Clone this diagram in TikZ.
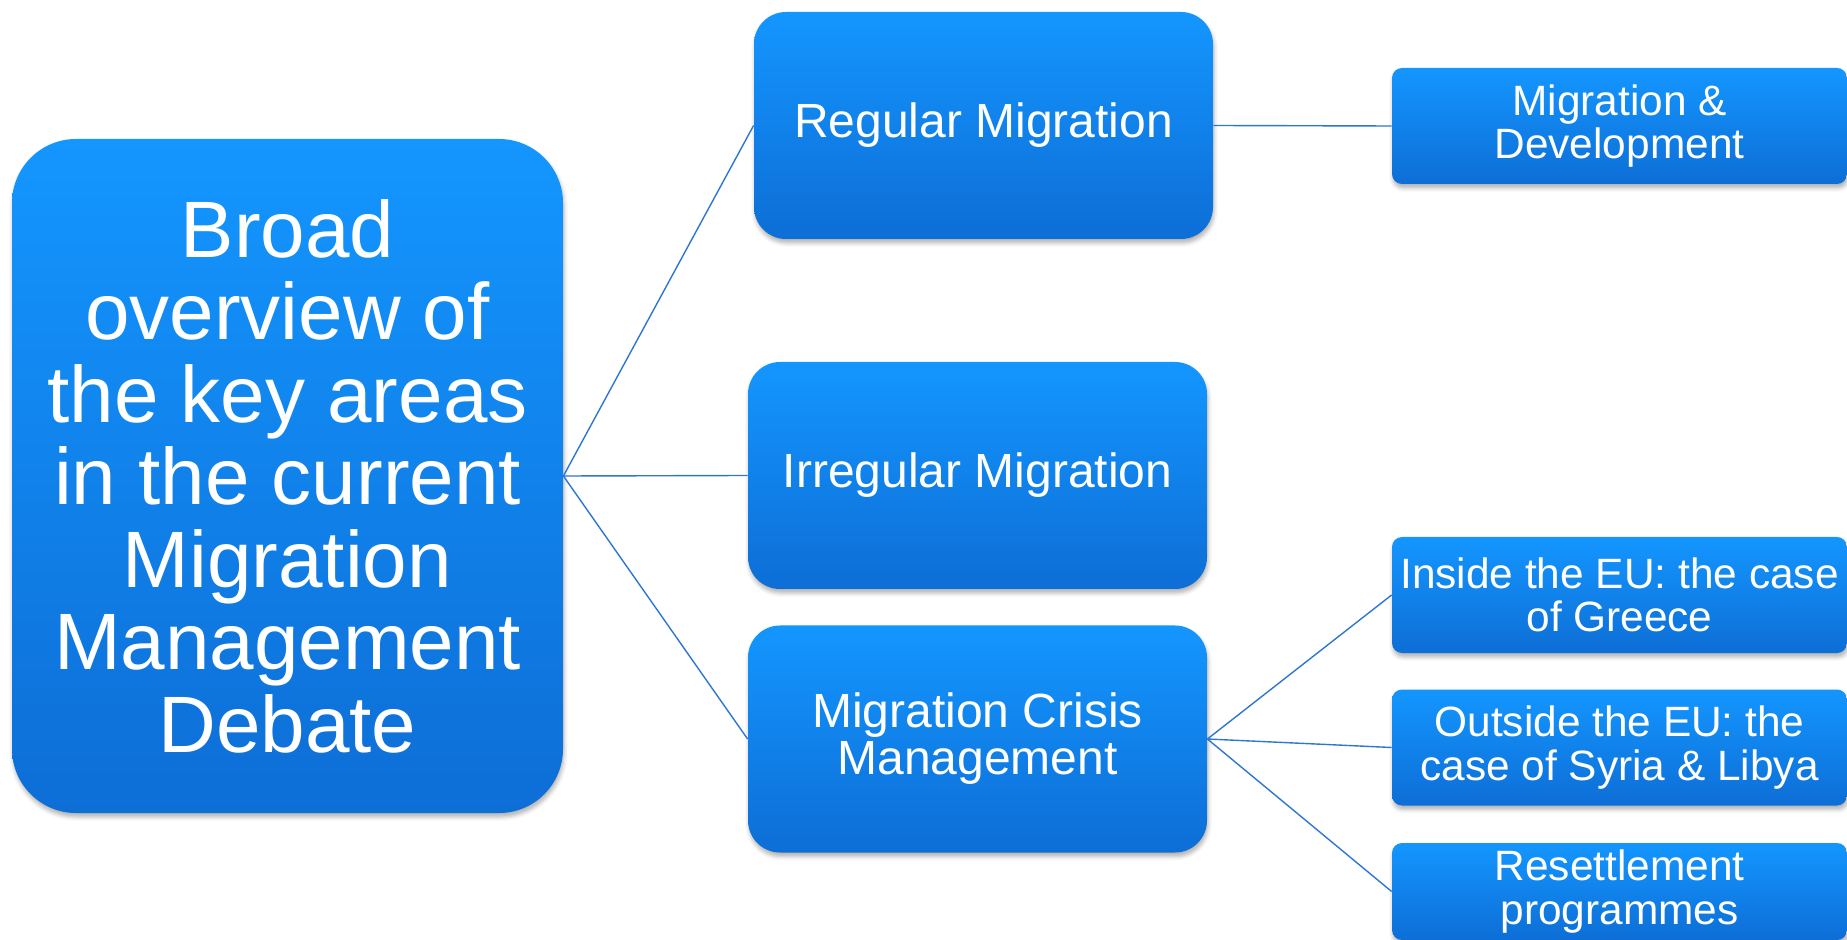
\documentclass[tikz,border=0pt]{standalone}
\usepackage{fontspec}
\setmainfont{Liberation Sans}
\usetikzlibrary{shapes,shadows.blur}

\definecolor{boxtop}{RGB}{20,150,255}
\definecolor{boxbottom}{RGB}{13,110,214}
\definecolor{linkblue}{RGB}{45,118,210}

\tikzstyle{rec} = [rectangle,rounded corners=16pt,top color=boxtop,bottom color=boxbottom,text=white,align=center,inner sep=0pt,blur shadow={shadow xshift=0.5pt,shadow yshift=-2pt,shadow blur radius=2pt,shadow opacity=30}]
\tikzstyle{area} = [rec,minimum width=229.5pt,minimum height=113.5pt,font=\fontsize{24}{23.5}\selectfont]
\tikzstyle{sub} = [rec,rounded corners=5pt,minimum width=227.5pt,minimum height=58pt,font=\fontsize{21.2}{21.7}\selectfont]
\tikzstyle{link} = [draw=linkblue,line width=0.7pt]

\begin{document}
\begin{tikzpicture}[x=0.5pt,y=-0.5pt]
	\useasboundingbox (0,0) rectangle (1847,940);

	\node[rec,rounded corners=32pt,minimum width=275.5pt,minimum height=337pt,font=\fontsize{40}{41.25}\selectfont](debate) at (287.5,476) {Broad\\overview of\\the key areas\\in the current\\Migration\\Management\\Debate};

	\node[area](regular) at (983.5,125.5) {Regular Migration};
	\draw[link] (debate.east) -- (regular.west);

	\node[area](irregular) at (977.5,475.5) {Irregular Migration};
	\draw[link] (debate.east) -- (irregular.west);

	\node[area](crisis) at (977.5,739) {Migration Crisis\\Management};
	\draw[link] (debate.east) -- (crisis.west);


	\node[sub](development) at (1619.5,126) {Migration \&\\Development};
	\draw[link] (regular.east) -- (development.west);

	\node[sub](greece) at (1619.5,595) {Inside the EU: the case\\of Greece};
	\draw[link] (crisis.east) -- (greece.west);

	\node[sub](syria) at (1619.5,747.5) {Outside the EU: the\\case of Syria \& Libya};
	\draw[link] (crisis.east) -- (syria.west);

	\node[sub,minimum height=48.5pt](resettlement) at (1619.5,891.5) {Resettlement\\programmes};
	\draw[link] (crisis.east) -- (resettlement.west);

\end{tikzpicture}
\end{document}
